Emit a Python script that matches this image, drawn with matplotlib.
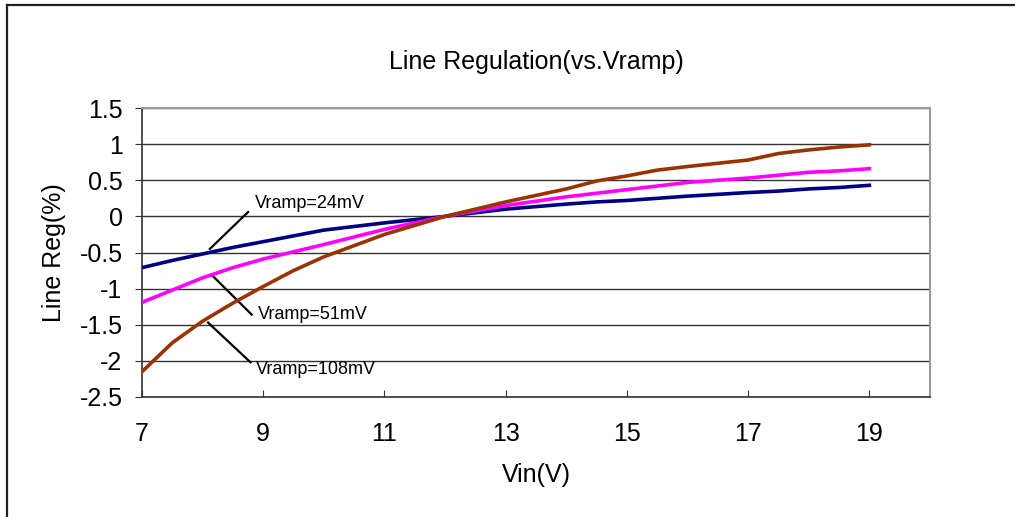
import matplotlib.pyplot as plt
from matplotlib.lines import Line2D

plt.rcParams['font.family'] = ['Liberation Sans', 'DejaVu Sans']

# data
vin = [7, 7.5, 8, 8.5, 9, 9.5, 10, 11, 12, 13, 14, 14.5, 15, 15.5, 16, 17, 17.5, 18, 18.5, 19]
reg_24mv = [-0.71, -0.61, -0.52, -0.43, -0.35, -0.27, -0.19, -0.09, 0.0, 0.10,
            0.17, 0.20, 0.22, 0.25, 0.28, 0.33, 0.35, 0.38, 0.40, 0.43]
reg_51mv = [-1.19, -1.02, -0.85, -0.71, -0.59, -0.49, -0.39, -0.18, 0.0, 0.15,
            0.27, 0.32, 0.37, 0.42, 0.47, 0.53, 0.57, 0.61, 0.63, 0.66]
reg_108mv = [-2.15, -1.75, -1.45, -1.20, -0.97, -0.75, -0.56, -0.25, 0.0, 0.20,
             0.38, 0.49, 0.56, 0.64, 0.69, 0.78, 0.87, 0.92, 0.96, 0.99]
xticks = [7, 9, 11, 13, 15, 17, 19]
yticks = [-2.5, -2, -1.5, -1, -0.5, 0, 0.5, 1, 1.5]
ytick_labels = ['-2.5', '-2', '-1.5', '-1', '-0.5', '0', '0.5', '1', '1.5']

fig = plt.figure(figsize=(10.15, 5.17), dpi=100)
ax = fig.add_axes([142 / 1015, 1 - 397 / 517, (930 - 142) / 1015, (397 - 108) / 517])

# outer chart frame (only top and left are visible in the picture)
fig.add_artist(Line2D([7 / 1015, 1.0], [1 - 5 / 517, 1 - 5 / 517], transform=fig.transFigure,
                      color='#222222', lw=1.6))
fig.add_artist(Line2D([7 / 1015, 7 / 1015], [0, 1 - 5 / 517], transform=fig.transFigure,
                      color='#222222', lw=1.6))

ax.plot(vin, reg_24mv, color='#000080', lw=2.6, zorder=3)
ax.plot(vin, reg_51mv, color='#FF00FF', lw=2.6, zorder=3)
ax.plot(vin, reg_108mv, color='#993300', lw=2.6, zorder=3)

ax.set_xlim(7, 20)
ax.set_ylim(-2.5, 1.5)
ax.set_xticks(xticks)
ax.set_yticks(yticks)
ax.set_yticklabels(ytick_labels)
ax.yaxis.grid(True, color='#333333', lw=1)
ax.set_axisbelow(True)

ax.tick_params(axis='x', direction='in', length=5, pad=18, labelsize=18, color='#333333')
ax.tick_params(axis='y', direction='out', length=5, pad=9, labelsize=18, color='#333333')

for s in ['top', 'right']:
    ax.spines[s].set_color('#999999')
    ax.spines[s].set_linewidth(1.5)
for s in ['left', 'bottom']:
    ax.spines[s].set_color('#333333')
    ax.spines[s].set_linewidth(1.2)

ax.set_title('Line Regulation(vs.Vramp)', fontsize=18, pad=28)
ax.set_xlabel('Vin(V)', fontsize=18, labelpad=12)
ax.set_ylabel('Line Reg(%)', fontsize=18, labelpad=10)

# label callouts
ax.plot([8.12, 8.75], [-0.45, 0.06], color='black', lw=1.6)
ax.text(8.87, 0.18, 'Vramp=24mV', fontsize=13, va='center', ha='left')
ax.plot([8.15, 8.81], [-0.81, -1.36], color='black', lw=1.6)
ax.text(8.92, -1.36, 'Vramp=51mV', fontsize=13, va='center', ha='left')
ax.plot([8.09, 8.79], [-1.47, -2.02], color='black', lw=1.6)
ax.text(8.88, -2.12, 'Vramp=108mV', fontsize=13, va='center', ha='left')

fig.savefig('out.png', dpi=100)
